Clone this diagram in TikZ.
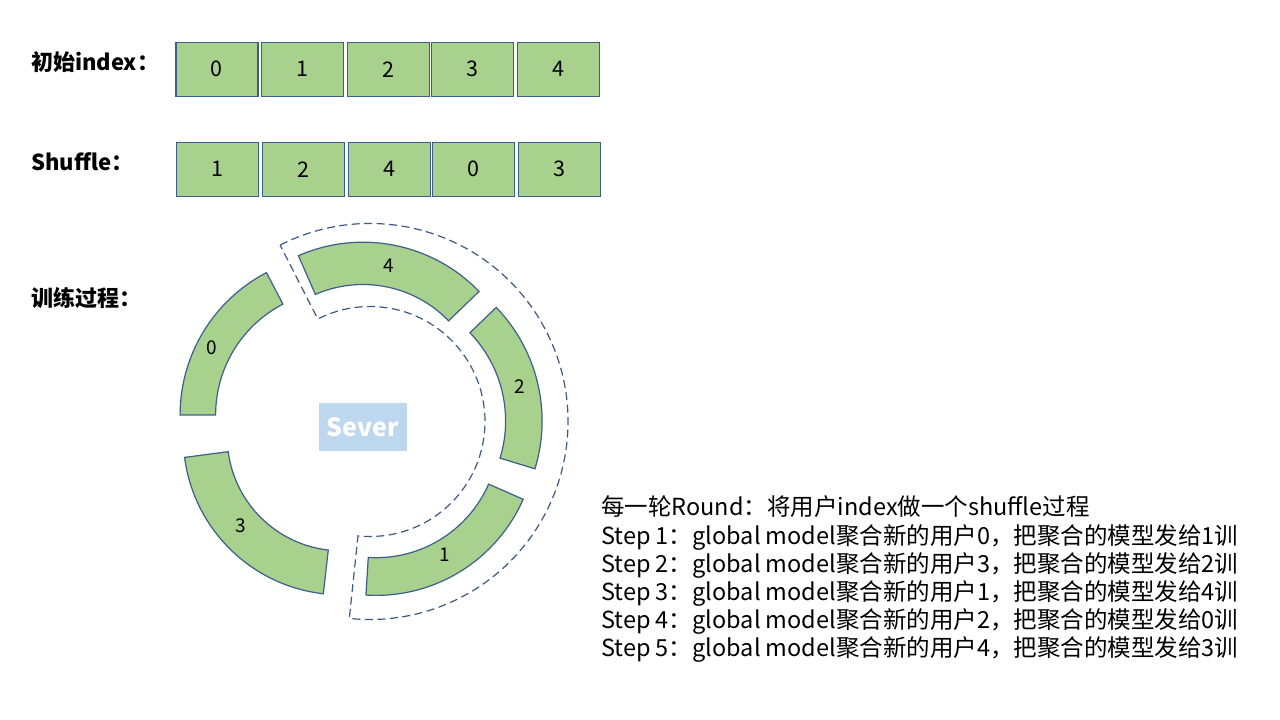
\documentclass[tikz,border=0pt]{standalone}
\usepackage{fontspec}
\setmainfont{Noto Sans CJK SC}
\definecolor{segfill}{HTML}{A9D18E}
\definecolor{edge}{HTML}{3B5E8C}
\definecolor{dashc}{HTML}{3C5A85}
\definecolor{severfill}{HTML}{BDD7EE}
\newcommand{\ringseg}[7]{%
  \draw[#7, shift={(#1,#2)}] (#3:#5pt) arc[start angle=#3, end angle=#4, radius=#5pt]
    -- (#4:#6pt) arc[start angle=#4, end angle=#3, radius=#6pt] -- cycle;}
\begin{document}
\begin{tikzpicture}[x=1pt,y=1pt,
  box/.style={draw=edge, fill=segfill, line width=1.2pt, minimum width=82pt, minimum height=54pt, inner sep=0pt, font=\fontsize{21.5}{22}\selectfont},
  seg/.style={draw=edge, fill=segfill, line width=1.2pt},
  dashring/.style={draw=dashc, line width=1.2pt, dash pattern=on 8pt off 4.5pt},
  lbl/.style={font=\fontsize{22}{22}\selectfont\bfseries, anchor=west, inner sep=0pt},
  stepline/.style={font=\fontsize{23.5}{24}\selectfont, anchor=base west, inner sep=0pt},
  num/.style={font=\fontsize{19}{19}\selectfont, inner sep=0pt}]
\useasboundingbox (0,0) rectangle (1280,720);
\fill[white] (0,0) rectangle (1280,720);

% row labels
\node[lbl] (l1) at (31,658.3) {初始index：};
\node[lbl] (l2) at (31,558) {Shuffle：};
\node[lbl] (l3) at (31,422) {训练过程：};

% initial index boxes
\node[box] (a0) at (216.9,650.7) {0};
\node[box] (a1) at (302.3,650.7) {1};
\node[box] (a2) at (388.3,650.7) {2};
\node[box] (a3) at (472.3,650.7) {3};
\node[box] (a4) at (558.3,650.7) {4};
% shuffled boxes
\node[box] (b0) at (217.8,550.7) {1};
\node[box] (b1) at (303.8,550.7) {2};
\node[box] (b2) at (389.7,550.7) {4};
\node[box] (b3) at (473.2,550.7) {0};
\node[box] (b4) at (559.2,550.7) {3};

% dashed outline around segments 4, 2, 1
\ringseg{370}{298.5}{117}{-96}{198}{115}{dashring}

% ring segments
\ringseg{340.6}{305}{117.5}{180}{160.5}{125}{seg}
\ringseg{363}{316.5}{44}{113.6}{161.3}{119}{seg}
\ringseg{378.6}{299}{-17}{44}{163.5}{127}{seg}
\ringseg{376}{285.3}{-93.6}{-23.7}{160.7}{123}{seg}
\ringseg{341.2}{283.2}{187.5}{263.5}{158}{114}{seg}

\node[num] (n0) at (211.7,372.7) {0};
\node[num] (n4) at (388.3,454.3) {4};
\node[num] (n2) at (519.3,333.3) {2};
\node[num] (n1) at (445,165) {1};
\node[num] (n3) at (241,194) {3};

% server
\node[fill=severfill, minimum width=88pt, minimum height=48pt, inner sep=0pt,
  text=white, font=\fontsize{25}{25}\selectfont\bfseries] (sv) at (363,293) {Sever};

% description
\node[stepline] (s0) at (601,204) {每一轮Round：将用户index做一个shuffle过程};
\node[stepline] (s1) at (601,175.8) {Step 1：global model聚合新的用户0，把聚合的模型发给1训};
\node[stepline] (s2) at (601,147.6) {Step 2：global model聚合新的用户3，把聚合的模型发给2训};
\node[stepline] (s3) at (601,119.4) {Step 3：global model聚合新的用户1，把聚合的模型发给4训};
\node[stepline] (s4) at (601,91.2) {Step 4：global model聚合新的用户2，把聚合的模型发给0训};
\node[stepline] (s5) at (601,63) {Step 5：global model聚合新的用户4，把聚合的模型发给3训};
\end{tikzpicture}
\end{document}
